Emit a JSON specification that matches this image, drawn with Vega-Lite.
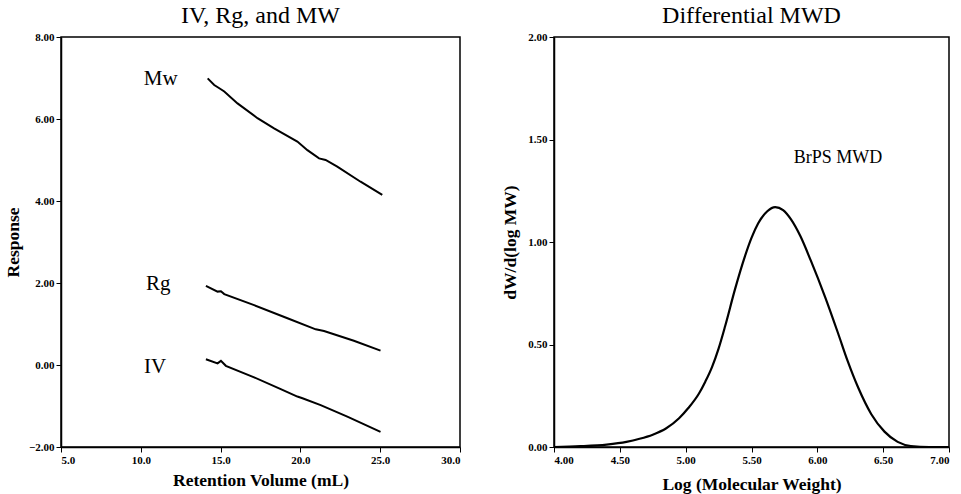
{
  "$schema": "https://vega.github.io/schema/vega-lite/v6.json",
  "padding": {"left": 3, "top": 3, "right": 0, "bottom": 4},
  "background": "white",
  "spacing": 39,
  "config": {
    "font": "Liberation Serif",
    "view": {"stroke": "black", "strokeWidth": 1.5},
    "axis": {
      "grid": false,
      "domainColor": "black",
      "domainWidth": 1.5,
      "tickColor": "black",
      "tickSize": 5,
      "labelColor": "black",
      "labelFont": "Liberation Serif",
      "labelFontWeight": "bold",
      "labelFontSize": 11,
      "titleFont": "Liberation Serif",
      "titleFontWeight": "bold",
      "titleFontSize": 17.5,
      "titleColor": "black"
    },
    "title": {"font": "Liberation Serif", "fontSize": 24, "fontWeight": "normal", "color": "black", "offset": 3}
  },
  "hconcat": [
    {
      "title": "IV, Rg, and MW",
      "width": 399,
      "height": 410,
      "layer": [
        {
          "data": {
            "values": [
              {"series": "Mw", "vol": 14.19, "val": 6.99},
              {"series": "Mw", "vol": 14.6, "val": 6.83},
              {"series": "Mw", "vol": 14.92, "val": 6.75},
              {"series": "Mw", "vol": 15.23, "val": 6.67},
              {"series": "Mw", "vol": 16.06, "val": 6.38},
              {"series": "Mw", "vol": 17.31, "val": 6.02},
              {"series": "Mw", "vol": 18.35, "val": 5.77},
              {"series": "Mw", "vol": 19.81, "val": 5.45},
              {"series": "Mw", "vol": 20.44, "val": 5.24},
              {"series": "Mw", "vol": 21.17, "val": 5.04},
              {"series": "Mw", "vol": 21.58, "val": 5.0},
              {"series": "Mw", "vol": 22.31, "val": 4.84},
              {"series": "Mw", "vol": 23.77, "val": 4.47},
              {"series": "Mw", "vol": 25.13, "val": 4.15},
              {"series": "Rg", "vol": 14.08, "val": 1.93},
              {"series": "Rg", "vol": 14.81, "val": 1.79},
              {"series": "Rg", "vol": 15.02, "val": 1.8},
              {"series": "Rg", "vol": 15.23, "val": 1.73},
              {"series": "Rg", "vol": 17.1, "val": 1.46},
              {"series": "Rg", "vol": 19.19, "val": 1.14},
              {"series": "Rg", "vol": 20.96, "val": 0.87},
              {"series": "Rg", "vol": 21.48, "val": 0.83},
              {"series": "Rg", "vol": 23.35, "val": 0.59},
              {"series": "Rg", "vol": 25.02, "val": 0.35},
              {"series": "IV", "vol": 14.08, "val": 0.14},
              {"series": "IV", "vol": 14.81, "val": 0.04},
              {"series": "IV", "vol": 15.02, "val": 0.1},
              {"series": "IV", "vol": 15.33, "val": -0.02},
              {"series": "IV", "vol": 17.1, "val": -0.3},
              {"series": "IV", "vol": 18.77, "val": -0.59},
              {"series": "IV", "vol": 19.81, "val": -0.77},
              {"series": "IV", "vol": 20.13, "val": -0.81},
              {"series": "IV", "vol": 21.27, "val": -0.98},
              {"series": "IV", "vol": 22.94, "val": -1.26},
              {"series": "IV", "vol": 25.02, "val": -1.63}
            ]
          },
          "mark": {"type": "line", "color": "black", "strokeWidth": 2},
          "encoding": {
            "x": {
              "field": "vol", "type": "quantitative",
              "scale": {"domain": [5, 30], "nice": false},
              "axis": {"values": [5, 10, 15, 20, 25, 30], "format": ".1f", "title": "Retention Volume (mL)", "titlePadding": 6}
            },
            "y": {
              "field": "val", "type": "quantitative",
              "scale": {"domain": [-2, 8], "nice": false},
              "axis": {"values": [-2, 0, 2, 4, 6, 8], "format": ".2f", "title": "Response", "titlePadding": 6}
            },
            "detail": {"field": "series"}
          }
        },
        {
          "data": {
            "values": [
              {"label": "Mw", "vol": 11.25, "val": 6.98},
              {"label": "Rg", "vol": 11.1, "val": 1.98},
              {"label": "IV", "vol": 10.9, "val": -0.05}
            ]
          },
          "mark": {"type": "text", "fontSize": 21, "color": "black", "align": "center", "baseline": "middle", "font": "Liberation Serif"},
          "encoding": {
            "x": {"field": "vol", "type": "quantitative"},
            "y": {"field": "val", "type": "quantitative"},
            "text": {"field": "label"}
          }
        }
      ]
    },
    {
      "title": "Differential MWD",
      "width": 395,
      "height": 410,
      "layer": [
        {
          "data": {
            "values": [
              {"logmw": 4.0, "w": 0.0},
              {"logmw": 4.2, "w": 0.004},
              {"logmw": 4.4, "w": 0.012},
              {"logmw": 4.55, "w": 0.025},
              {"logmw": 4.65, "w": 0.04},
              {"logmw": 4.75, "w": 0.06},
              {"logmw": 4.85, "w": 0.09},
              {"logmw": 4.95, "w": 0.14},
              {"logmw": 5.02, "w": 0.19},
              {"logmw": 5.1, "w": 0.26},
              {"logmw": 5.15, "w": 0.32},
              {"logmw": 5.2, "w": 0.39},
              {"logmw": 5.25, "w": 0.48},
              {"logmw": 5.3, "w": 0.59},
              {"logmw": 5.375, "w": 0.77},
              {"logmw": 5.45, "w": 0.93},
              {"logmw": 5.5, "w": 1.02},
              {"logmw": 5.55, "w": 1.09},
              {"logmw": 5.62, "w": 1.15},
              {"logmw": 5.68, "w": 1.17},
              {"logmw": 5.74, "w": 1.155},
              {"logmw": 5.8, "w": 1.11},
              {"logmw": 5.87, "w": 1.03},
              {"logmw": 5.95, "w": 0.91},
              {"logmw": 6.06, "w": 0.73},
              {"logmw": 6.16, "w": 0.55},
              {"logmw": 6.23, "w": 0.42},
              {"logmw": 6.31, "w": 0.29},
              {"logmw": 6.41, "w": 0.16},
              {"logmw": 6.51, "w": 0.075},
              {"logmw": 6.61, "w": 0.025},
              {"logmw": 6.71, "w": 0.005},
              {"logmw": 6.85, "w": 0.0},
              {"logmw": 7.0, "w": 0.0}
            ]
          },
          "mark": {"type": "line", "color": "black", "strokeWidth": 2.2, "interpolate": "monotone"},
          "encoding": {
            "x": {
              "field": "logmw", "type": "quantitative",
              "scale": {"domain": [4, 7], "nice": false},
              "axis": {"values": [4, 4.5, 5, 5.5, 6, 6.5, 7], "format": ".2f", "title": "Log (Molecular Weight)", "titlePadding": 10}
            },
            "y": {
              "field": "w", "type": "quantitative",
              "scale": {"domain": [0, 2], "nice": false},
              "axis": {"values": [0, 0.5, 1, 1.5, 2], "format": ".2f", "title": "dW/d(log MW)", "titlePadding": 8}
            }
          }
        },
        {
          "data": {"values": [{"label": "BrPS MWD", "logmw": 5.82, "w": 1.41}]},
          "mark": {"type": "text", "fontSize": 18, "color": "black", "align": "left", "baseline": "middle", "font": "Liberation Serif"},
          "encoding": {
            "x": {"field": "logmw", "type": "quantitative"},
            "y": {"field": "w", "type": "quantitative"},
            "text": {"field": "label"}
          }
        }
      ]
    }
  ]
}
